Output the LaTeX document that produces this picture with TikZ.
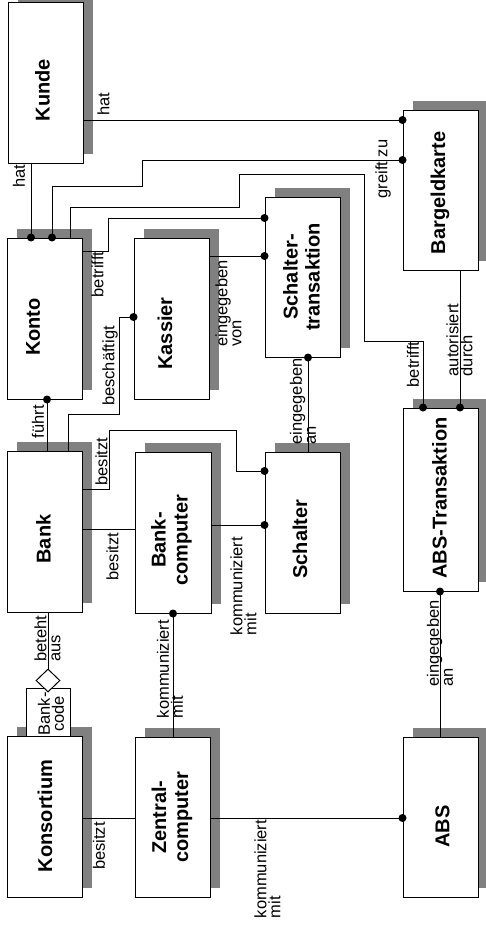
\documentclass[tikz,border=0pt]{standalone}
\usepackage{fontspec}
\setmainfont{Liberation Sans}
\usetikzlibrary{shapes.geometric,shadows}
\definecolor{shadowgray}{HTML}{808080}
\begin{document}
\begin{tikzpicture}[x=1pt,y=-1pt,
  ebox/.style={draw=black, line width=1pt, fill=white, minimum width=75pt, minimum height=160pt, inner sep=0pt,
    general shadow={fill=shadowgray, shadow xshift=10pt, shadow yshift=9.5pt}},
  etext/.style={rotate=90, font=\fontsize{20}{22}\selectfont\bfseries, align=center, inner sep=0pt},
  rlabel/.style={rotate=90, font=\fontsize{16.5}{14}\selectfont, align=left, inner sep=0pt},
  conn/.style={line width=1pt, black},
  edot/.style={fill=black},
]
\useasboundingbox (0,0) rectangle (485,934);
% boxes
\node[ebox] (kunde) at (45.5,83) {};
\node[ebox, minimum height=161pt] (konto) at (44.5,318.5) {};
\node[ebox, minimum height=161pt] (kassier) at (171.5,318.5) {};
\node[ebox, minimum height=161pt] (bank) at (44.5,531.5) {};
\node[ebox, minimum width=76pt, minimum height=161pt] (bc) at (173,532.5) {};
\node[ebox, minimum height=161pt] (kons) at (44.5,816.5) {};
\node[ebox] (zentral) at (172.5,817) {};
\node[ebox] (st) at (302.5,277) {};
\node[ebox, minimum height=161pt] (schalter) at (302.5,532.5) {};
\node[ebox] (bk) at (440.5,190) {};
\node[ebox, minimum height=183pt] (abst) at (440.5,499.5) {};
\node[ebox] (abs) at (440.5,817) {};
% bank code
\node[draw, line width=1pt, fill=white, minimum width=44pt, minimum height=48pt, inner sep=0pt] (bcode) at (48,712) {};
\node[diamond, draw, fill=white, line width=1pt, minimum width=24pt, minimum height=23pt, inner sep=0pt] (dia) at (48,680.5) {};
% box texts
\node[etext] (kundet) at (42.5,90) {Kunde};
\node[etext] (kontot) at (33,327) {Konto};
\node[etext] (kassiert) at (165,333.5) {Kassier};
\node[etext] (bankt) at (43.5,539) {Bank};
\node[etext] (bct) at (171.5,540) {Bank-\\computer};
\node[etext] (konst) at (45,816) {Konsortium};
\node[etext] (zentralt) at (172,817) {Zentral-\\computer};
\node[etext] (stt) at (301.5,277) {Schalter-\\transaktion};
\node[etext] (schaltert) at (300,539) {Schalter};
\node[etext] (bkt) at (440,193) {Bargeldkarte};
\node[etext] (abstt) at (439.5,498) {ABS-Transaktion};
\node[etext] (abst2) at (442.5,826.5) {ABS};
\node[rlabel, align=center] (bcodet) at (51,714) {Bank-\\code};
% lanes
\coordinate (x31) at (31,0);
\coordinate (x52) at (52,0);
\coordinate (x70) at (70,0);
\coordinate (x47) at (47,0);
\coordinate (x68) at (68,0);
\coordinate (x308) at (308,0);
\coordinate (x460) at (460,0);
\coordinate (x48) at (48,0);
\coordinate (x173) at (173,0);
\coordinate (x440) at (440,0);
\coordinate (x423) at (423,0);
\coordinate (y120) at (0,120);
\coordinate (y160) at (0,160);
\coordinate (y251) at (0,251);
\coordinate (y218) at (0,218);
\coordinate (y256) at (0,256);
\coordinate (y317) at (0,317);
\coordinate (y489) at (0,489);
\coordinate (y471) at (0,471);
\coordinate (y529) at (0,529);
\coordinate (y525) at (0,525);
\coordinate (y818) at (0,818);
% connectors
\draw[conn] (kunde.east |- y120) -- (bk.west |- y120);
\fill[edot] (bk.west |- y120) circle[radius=4pt];
\draw[conn] (kunde.south -| x31) -- (konto.north -| x31);
\fill[edot] (konto.north -| x31) circle[radius=4pt];
\draw[conn] (konto.north -| x52) |- (142,186) |- (bk.west |- y160);
\fill[edot] (konto.north -| x52) circle[radius=4pt];
\fill[edot] (bk.west |- y160) circle[radius=4pt];
\draw[conn] (konto.north -| x70) |- (239,207) |- (364,174) |- (423,341) -- (abst.north -| x423);
\fill[edot] (abst.north -| x423) circle[radius=4pt];
\draw[conn] (konto.east |- y251) -- (108,251) |- (st.west |- y218);
\fill[edot] (st.west |- y218) circle[radius=4pt];
\draw[conn] (kassier.east |- y256) -- (st.west |- y256);
\fill[edot] (st.west |- y256) circle[radius=4pt];
\draw[conn] (konto.south -| x47) -- (bank.north -| x47);
\fill[edot] (konto.south -| x47) circle[radius=4pt];
\draw[conn] (bank.north -| x68) |- (119,414) |- (kassier.west |- y317);
\fill[edot] (kassier.west |- y317) circle[radius=4pt];
\draw[conn] (bank.east |- y489) -- (109,489) |- (236,430) |- (schalter.west |- y471);
\fill[edot] (schalter.west |- y471) circle[radius=4pt];
\draw[conn] (bank.east |- y529) -- (bc.west |- y529);
\draw[conn] (bc.east |- y525) -- (schalter.west |- y525);
\fill[edot] (schalter.west |- y525) circle[radius=4pt];
\draw[conn] (st.south -| x308) -- (schalter.north -| x308);
\fill[edot] (st.south -| x308) circle[radius=4pt];
\draw[conn] (bk.south -| x460) -- (abst.north -| x460);
\fill[edot] (abst.north -| x460) circle[radius=4pt];
\draw[conn] (bank.south -| x48) -- (dia.north);
\draw[conn] (bc.south -| x173) -- (zentral.north -| x173);
\fill[edot] (bc.south -| x173) circle[radius=4pt];
\draw[conn] (kons.east |- y818) -- (zentral.west |- y818);
\draw[conn] (zentral.east |- y818) -- (abs.west |- y818);
\fill[edot] (abs.west |- y818) circle[radius=4pt];
\draw[conn] (abst.south -| x440) -- (abs.north -| x440);
\fill[edot] (abst.south -| x440) circle[radius=4pt];
% labels
\node[rlabel] (l1) at (103.5,104) {hat};
\node[rlabel] (l2) at (19,176.5) {hat};
\node[rlabel] (l3) at (383,169) {greift zu};
\node[rlabel] (l4) at (413,364.5) {betrifft};
\node[rlabel] (l5) at (97.5,274.5) {betrifft};
\node[rlabel] (l6) at (228.5,303.5) {eingegeben\\von};
\node[rlabel] (l7) at (38,421.5) {führt};
\node[rlabel] (l8) at (110,366) {beschäftigt};
\node[rlabel] (l9) at (101.5,461.5) {besitzt};
\node[rlabel] (l10) at (112.5,556.5) {besitzt};
\node[rlabel] (l11) at (243.5,586) {kommuniziert\\mit};
\node[rlabel] (l12) at (303,401.5) {eingegeben\\an};
\node[rlabel] (l13) at (459.5,340) {autorisiert\\durch};
\node[rlabel] (l14) at (47.5,638.5) {beteht\\aus};
\node[rlabel] (l15) at (170,669) {kommuniziert\\mit};
\node[rlabel] (l16) at (99,846) {besitzt};
\node[rlabel] (l17) at (267.5,869) {kommuniziert\\mit};
\node[rlabel] (l18) at (440,643.5) {eingegeben\\an};
\end{tikzpicture}
\end{document}
